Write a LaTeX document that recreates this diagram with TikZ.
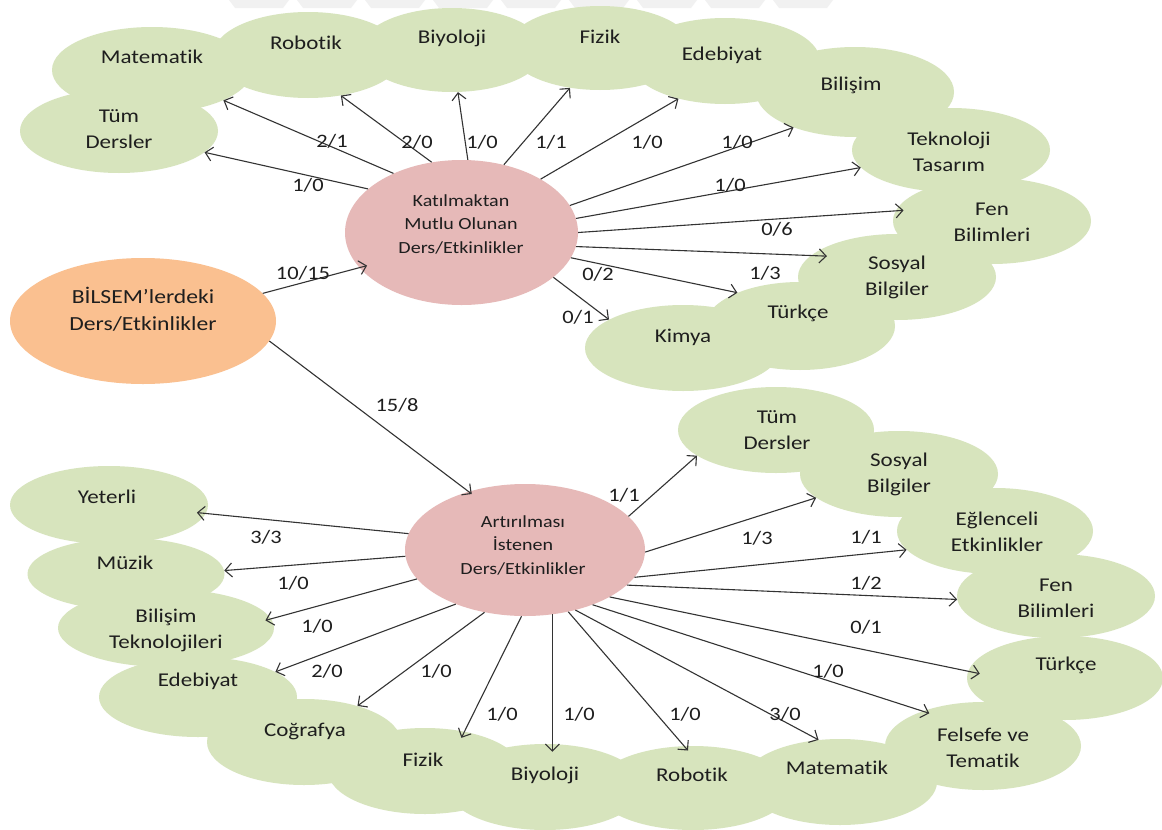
\documentclass[tikz,border=0pt]{standalone}
\usepackage{fontspec}
\setmainfont{Carlito}[FakeStretch=1.18, Ligatures=NoCommon]
\usetikzlibrary{shapes.geometric,arrows.meta}

\definecolor{leafgreen}{HTML}{D7E4BD}
\definecolor{rosepink}{HTML}{E6B9B8}
\definecolor{peach}{HTML}{FAC090}
\definecolor{inkcol}{HTML}{1E1E1E}
\definecolor{wirecol}{HTML}{333333}
\definecolor{markgray}{HTML}{F1F1F1}

\newcommand\leaffont{\fontsize{19.5}{26}\selectfont}
\newcommand\hubfont{\fontsize{17}{23.5}\selectfont}
\newcommand\rootfont{\fontsize{20}{27}\selectfont}
\newcommand\valfont{\fontsize{19}{22}\selectfont}

\tikzset{
  leaf/.style={ellipse, fill=leafgreen, draw=none, inner sep=0pt},
  hub/.style={ellipse, fill=rosepink, draw=none, inner sep=0pt},
  rootnode/.style={ellipse, fill=peach, draw=none, inner sep=0pt},
  leaftext/.style={inner sep=0pt, align=center, text=inkcol, font=\leaffont},
  hubtext/.style={inner sep=0pt, align=center, text=inkcol, font=\hubfont},
  roottext/.style={inner sep=0pt, align=center, text=inkcol, font=\rootfont},
  val/.style={inner sep=0pt, text=inkcol, font=\valfont},
  arr/.style={draw=wirecol, line width=1.1pt, -{Straight Barb[length=7pt,width=14pt,line width=1.1pt]}},
}

\begin{document}
\begin{tikzpicture}[x=1pt,y=-1pt]
\useasboundingbox (0,0) rectangle (1162,830);
\fill[white] (0,0) rectangle (1162,830);

% faint band along the top edge
\foreach \bx in {229,297,365,433,501,569,637,705,773}
  \fill[markgray] (\bx,0) -- (\bx+60,0) -- (\bx+54,8) -- (\bx+6,8) -- cycle;

% ---- upper cloud of subjects ----
\node[leaf, minimum width=198pt, minimum height=84pt] (tumA) at (119,131) {};
\node[leaf, minimum width=200pt, minimum height=86pt] (matA) at (152,70) {};
\node[leaf, minimum width=190pt, minimum height=86pt] (robA) at (308,55) {};
\node[leaf, minimum width=184pt, minimum height=84pt] (biyA) at (452,50) {};
\node[leaf, minimum width=184pt, minimum height=84pt] (fizA) at (600,48) {};
\node[leaf, minimum width=190pt, minimum height=86pt] (edeA) at (725,61) {};
\node[leaf, minimum width=198pt, minimum height=90pt] (bilA) at (855,92) {};
\node[leaf, minimum width=198pt, minimum height=84pt] (tekA) at (951,150) {};
\node[leaf, minimum width=198pt, minimum height=86pt] (fenA) at (992,221) {};
\node[leaf, minimum width=198pt, minimum height=86pt] (sosA) at (897,277) {};
\node[leaf, minimum width=190pt, minimum height=88pt] (turA) at (800,326) {};
\node[leaf, minimum width=196pt, minimum height=86pt] (kimA) at (683,348) {};

% ---- lower cloud of subjects ----
\node[leaf, minimum width=196pt, minimum height=86pt] (tumB) at (776,430) {};
\node[leaf, minimum width=198pt, minimum height=86pt] (sosB) at (899,474) {};
\node[leaf, minimum width=196pt, minimum height=86pt] (egeB) at (995,531) {};
\node[leaf, minimum width=198pt, minimum height=84pt] (fenB) at (1056,596) {};
\node[leaf, minimum width=196pt, minimum height=84pt] (turB) at (1065,678) {};
\node[leaf, minimum width=196pt, minimum height=88pt] (felB) at (983,746) {};
\node[leaf, minimum width=194pt, minimum height=86pt] (matB) at (840,782) {};
\node[leaf, minimum width=196pt, minimum height=84pt] (robB) at (693,788) {};
\node[leaf, minimum width=196pt, minimum height=86pt] (biyB) at (545,787) {};
\node[leaf, minimum width=194pt, minimum height=86pt] (fizB) at (425,771) {};
\node[leaf, minimum width=194pt, minimum height=86pt] (cogB) at (304,742) {};
\node[leaf, minimum width=198pt, minimum height=80pt] (edeB) at (198,697) {};
\node[leaf, minimum width=216pt, minimum height=78pt] (bilB) at (166,628) {};
\node[leaf, minimum width=197pt, minimum height=72pt] (muzB) at (126,574) {};
\node[leaf, minimum width=198pt, minimum height=78pt] (yetB) at (109,505) {};

% ---- central nodes ----
\node[hub, minimum width=233pt, minimum height=145pt] (kt) at (461.5,232.5) {};
\node[hub, minimum width=240pt, minimum height=132pt] (ai) at (525,550) {};
\node[rootnode, minimum width=266pt, minimum height=126pt] (bo) at (143,321) {};

% ---- texts ----
\node[leaftext] (tumAt) at (119,129) {Tüm\\Dersler};
\node[leaftext] (matAt) at (152,57) {Matematik};
\node[leaftext] (robAt) at (306,43) {Robotik};
\node[leaftext] (biyAt) at (452,38) {Biyoloji};
\node[leaftext] (fizAt) at (600,37) {Fizik};
\node[leaftext] (edeAt) at (722,55) {Edebiyat};
\node[leaftext] (bilAt) at (851,85) {Bilişim};
\node[leaftext] (tekAt) at (949,152) {Teknoloji\\Tasarım};
\node[leaftext] (fenAt) at (992,222) {Fen\\Bilimleri};
\node[leaftext] (sosAt) at (897,277) {Sosyal\\Bilgiler};
\node[leaftext] (turAt) at (798,313) {Türkçe};
\node[leaftext] (kimAt) at (683,337) {Kimya};

\node[leaftext] (tumBt) at (777,430) {Tüm\\Dersler};
\node[leaftext] (sosBt) at (899,474) {Sosyal\\Bilgiler};
\node[leaftext] (egeBt) at (997,532) {Eğlenceli\\Etkinlikler};
\node[leaftext] (fenBt) at (1056,598) {Fen\\Bilimleri};
\node[leaftext] (turBt) at (1066,665) {Türkçe};
\node[leaftext] (felBt) at (983,748) {Felsefe ve\\Tematik};
\node[leaftext] (matBt) at (837,768) {Matematik};
\node[leaftext] (robBt) at (692,775) {Robotik};
\node[leaftext] (biyBt) at (545,775) {Biyoloji};
\node[leaftext] (fizBt) at (423,760) {Fizik};
\node[leaftext] (cogBt) at (305,731) {Coğrafya};
\node[leaftext] (edeBt) at (198,681) {Edebiyat};
\node[leaftext] (bilBt) at (166,630) {Bilişim\\Teknolojileri};
\node[leaftext] (muzBt) at (125,563) {Müzik};
\node[leaftext] (yetBt) at (107,497) {Yeterli};

\node[hubtext] (ktt) at (461,224) {Katılmaktan\\Mutlu Olunan\\Ders/Etkinlikler};
\node[hubtext] (ait) at (523,545) {Artırılması\\İstenen\\Ders/Etkinlikler};
\node[roottext] (bot) at (143,309.5) {BİLSEM’lerdeki\\Ders/Etkinlikler};

% ---- connectors from the root ----
\draw[arr, shorten >=-8pt] (bo.13.1) -- (kt.199.2);
\draw[arr, shorten >=-4pt] (bo.-9) -- (ai.134.7);

% ---- connectors of the upper hub ----
\draw[arr] (kt.155.6) -- (tumA.-14.9);
\draw[arr] (kt.139.4) -- (matA.-23.4);
\draw[arr] (kt.113.9) -- (robA.-51.3);
\draw[arr] (kt.85.5) -- (biyA.-82.9);
\draw[arr] (kt.58.3) -- (fizA.233.1);
\draw[arr] (kt.34.6) -- (edeA.219.8);
\draw[arr] (kt.14.2) -- (bilA.210.4);
\draw[arr] (kt.7.1) -- (tekA.191.4);
\draw[arr, shorten >=-8pt] (kt.-0.2) -- (fenA.174.9);
\draw[arr, shorten >=-16pt] (kt.-7.1) -- (sosA.166.3);
\draw[arr] (kt.-13.2) -- (turA.152);
\draw[arr] (kt.-26.7) -- (kimA.159.5);

% ---- connectors of the lower hub ----
\draw[arr, shorten >=-9pt] (ai.172.2) -- (yetB.-5.3);
\draw[arr] (ai.183.6) -- (muzB.2.4);
\draw[arr, shorten >=-6pt] (ai.195.2) -- (bilB.5.9);
\draw[arr] (ai.218.7) -- (edeB.18.2);
\draw[arr] (ai.237.1) -- (cogB.34.9);
\draw[arr, shorten >=-7pt] (ai.267.6) -- (fizB.45.8);
\draw[arr, shorten >=-8pt] (ai.-67.2) -- (ai.-67.2 |- biyB.north);
\draw[arr, shorten >=-6pt] (ai.-55.3) -- (robB.102.5);
\draw[arr] (ai.-50.8) -- (matB.117.1);
\draw[arr, shorten >=-7pt] (ai.-39.2) -- (felB.150.6);
\draw[arr, shorten >=-12pt] (ai.-29.6) -- (turB.176.6);
\draw[arr] (ai.-19.3) -- (fenB.182.3);
\draw[arr] (ai.-14) -- (egeB.192.9);
\draw[arr] (ai.-1.4) -- (sosB.196.2);
\draw[arr] (ai.18.3) -- (tumB.198.9);

% ---- counts on the connectors ----
\node[val] (v01) at (303,273) {10/15};
\node[val] (v02) at (397,405) {15/8};

\node[val] (v03) at (308,185) {1/0};
\node[val] (v04) at (332,141) {2/1};
\node[val] (v05) at (417,142) {2/0};
\node[val] (v06) at (482,142) {1/0};
\node[val] (v07) at (551,142) {1/1};
\node[val] (v08) at (647,142) {1/0};
\node[val] (v09) at (737,142) {1/0};
\node[val] (v10) at (730,185) {1/0};
\node[val] (v11) at (777,229) {0/6};
\node[val] (v12) at (765,273) {1/3};
\node[val] (v13) at (598,274) {0/2};
\node[val] (v14) at (578,317) {0/1};

\node[val] (v15) at (266,537) {3/3};
\node[val] (v16) at (293,583) {1/0};
\node[val] (v17) at (317,626) {1/0};
\node[val] (v18) at (327,671) {2/0};
\node[val] (v19) at (436,671) {1/0};
\node[val] (v20) at (502,714) {1/0};
\node[val] (v21) at (579,714) {1/0};
\node[val] (v22) at (685,714) {1/0};
\node[val] (v23) at (785,714) {3/0};
\node[val] (v24) at (828,671) {1/0};
\node[val] (v25) at (866,627) {0/1};
\node[val] (v26) at (866,583) {1/2};
\node[val] (v27) at (866,537) {1/1};
\node[val] (v28) at (757,538) {1/3};
\node[val] (v29) at (624,495) {1/1};
\end{tikzpicture}
\end{document}
